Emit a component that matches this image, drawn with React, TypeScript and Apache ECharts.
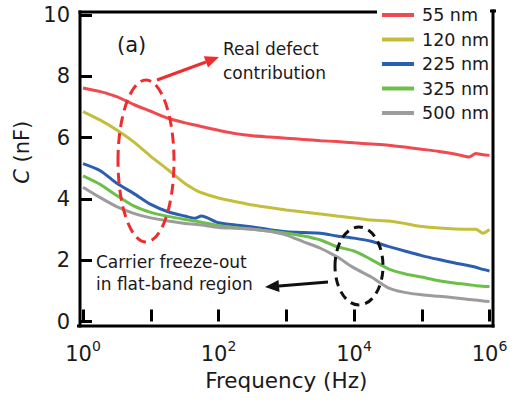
import React, { useEffect, useRef } from 'react';
import * as echarts from 'echarts';

// Measurement frequencies (Hz), shared by every thickness
const frequencies = [
  1, 1.8, 3.2, 5.6, 10, 18, 32, 45, 56, 100, 180, 320, 560, 1000, 1800, 3200, 5600,
  10000, 18000, 32000, 56000, 100000, 180000, 320000, 500000, 630000, 800000, 1000000,
];

// Capacitance (nF) for each layer thickness
const c55nm = [
  7.62, 7.5, 7.33, 7.08, 6.86, 6.63, 6.48, 6.41, 6.36, 6.24, 6.13, 6.06, 6.02, 5.98, 5.94, 5.9,
  5.87, 5.83, 5.79, 5.75, 5.69, 5.62, 5.55, 5.46, 5.37, 5.48, 5.44, 5.42,
];
const c120nm = [
  6.85, 6.57, 6.24, 5.86, 5.39, 4.95, 4.5, 4.3, 4.2, 4.03, 3.91, 3.8, 3.72, 3.64, 3.57, 3.51,
  3.44, 3.38, 3.31, 3.28, 3.2, 3.1, 3.05, 3.02, 3.01, 3.01, 2.88, 3.0,
];
const c225nm = [
  5.15, 4.92, 4.5, 4.18, 3.82, 3.58, 3.44, 3.37, 3.44, 3.22, 3.15, 3.08, 3.0, 2.93, 2.9, 2.88,
  2.79, 2.72, 2.62, 2.45, 2.3, 2.15, 2.02, 1.9, 1.82, 1.77, 1.7, 1.65,
];
const c325nm = [
  4.75, 4.47, 4.1, 3.77, 3.56, 3.43, 3.33, 3.28, 3.24, 3.13, 3.06, 3.01, 2.95, 2.88, 2.79, 2.66,
  2.44, 2.3, 2.02, 1.72, 1.56, 1.45, 1.33, 1.25, 1.2, 1.17, 1.15, 1.14,
];
const c500nm = [
  4.38, 4.04, 3.74, 3.53, 3.38, 3.28, 3.2, 3.17, 3.15, 3.07, 3.04, 3.01, 2.94, 2.82, 2.6, 2.39,
  2.11, 1.75, 1.45, 1.1, 0.95, 0.87, 0.82, 0.77, 0.72, 0.7, 0.67, 0.65,
];

const seriesNames = ['55 nm', '120 nm', '225 nm', '325 nm', '500 nm'];
const seriesValues = [c55nm, c120nm, c225nm, c325nm, c500nm];
const seriesColors = ['#ef4a50', '#c4be3c', '#2b5db0', '#6cbf48', '#9c9c9c'];

const yMin = 0;
const yMax = 10;
const yStep = 2;
const xMin = 1;
const xMax = 1e6;

const FONT = '"DejaVu Sans", Verdana, sans-serif';
const INK = '#1a1a1a';

// plot box edges (px); the top edge is interrupted where the legend sits
const BOX = { l: 80, t: 12, r: 493, b: 326, gapFrom: 377, gapTo: 490 };
const EDGE = 3;

// a solid bar of the box outline
const boxBar = (x: number, y: number, width: number, height: number) => ({
  type: 'rect',
  z: 100,
  silent: true,
  shape: { x, y, width, height },
  style: { fill: '#000' },
});

export default function App() {
  const ref = useRef<HTMLDivElement>(null);

  useEffect(() => {
    if (!ref.current) return;
    const chart = echarts.init(ref.current, undefined, { renderer: 'svg' });
    const h = EDGE / 2;

    const option: any = {
      animation: false,
      backgroundColor: '#fff',
      textStyle: { fontFamily: FONT },
      grid: { left: 83, top: 15, right: 29.5, bottom: 78.5 },
      legend: {
        data: seriesNames,
        orient: 'vertical',
        left: 377,
        top: 3,
        icon: 'rect',
        itemWidth: 32,
        itemHeight: 4,
        itemGap: 4.5,
        padding: [2, 4, 2, 5],
        textStyle: {
          fontFamily: FONT,
          fontSize: 17.5,
          color: INK,
          lineHeight: 20,
          padding: [0, 0, 0, 3],
        },
      },
      xAxis: {
        type: 'log',
        logBase: 10,
        min: xMin,
        max: xMax,
        offset: 4,
        axisLine: { show: false },
        axisTick: { show: true, inside: true, length: 12, lineStyle: { color: '#000', width: 3 } },
        splitLine: { show: false },
        axisLabel: {
          margin: 13.5,
          color: INK,
          formatter: (v: number) => {
            const e = Math.round(Math.log10(v));
            return e % 2 === 0 ? `{b|10}{s|${e}}` : '';
          },
          rich: {
            b: { fontFamily: FONT, fontSize: 21, lineHeight: 30, color: INK },
            s: { fontFamily: FONT, fontSize: 14, lineHeight: 9, verticalAlign: 'top', color: INK },
          },
        },
        name: 'Frequency (Hz)',
        nameLocation: 'middle',
        nameGap: 43,
        nameTextStyle: { fontFamily: FONT, fontSize: 21.5, color: INK },
      },
      yAxis: {
        type: 'value',
        min: yMin,
        max: yMax,
        interval: yStep,
        offset: 3,
        axisLine: { show: false },
        axisTick: { show: true, inside: true, length: 12, lineStyle: { color: '#000', width: 3 } },
        splitLine: { show: false },
        axisLabel: { margin: 10, fontSize: 21, color: INK, fontFamily: FONT },
        name: '{i|C} (nF)',
        nameLocation: 'middle',
        nameGap: 40,
        nameTextStyle: {
          fontFamily: FONT,
          fontSize: 21,
          color: INK,
          padding: [0, 0, 0, 32],
          rich: {
            i: { fontFamily: FONT, fontSize: 21, fontStyle: 'italic', color: INK },
          },
        },
      },
      series: seriesNames.map((name, k) => ({
        name,
        type: 'line',
        data: frequencies.map((f, i) => [f, seriesValues[k][i]]),
        symbol: 'none',
        smooth: 0.25,
        lineStyle: { color: seriesColors[k], width: 3 },
        itemStyle: { color: seriesColors[k] },
        z: 2 + k,
      })),
      graphic: [
        boxBar(BOX.l - h, BOX.t - h, EDGE, BOX.b - BOX.t + EDGE),
        boxBar(BOX.l - 3, BOX.b - h, BOX.r - BOX.l + 3 + h, EDGE),
        boxBar(BOX.r - h, BOX.t - 2.5, EDGE, BOX.b - BOX.t + 4),
        boxBar(BOX.l - h, BOX.t - h, BOX.gapFrom - BOX.l + h, EDGE),
        boxBar(BOX.gapTo, BOX.t - 2.5, BOX.r - BOX.gapTo + 3, EDGE),
        { type: 'text', left: 117, top: 34, z: 20, style: { text: '(a)', font: `21px ${FONT}`, fill: INK } },
        // highlighted low-frequency region
        {
          type: 'ellipse',
          z: 20,
          shape: { cx: 146, cy: 161, rx: 28, ry: 81 },
          style: { fill: 'none', stroke: '#ee2e2e', lineWidth: 3, lineDash: [11, 6] },
        },
        {
          type: 'line',
          z: 20,
          shape: { x1: 157, y1: 80, x2: 206, y2: 62 },
          style: { stroke: '#ee2e2e', lineWidth: 3 },
        },
        {
          type: 'polygon',
          z: 20,
          shape: { points: [[219, 57], [208, 67.5], [203.8, 56.3]] },
          style: { fill: '#ee2e2e' },
        },
        { type: 'text', left: 223, top: 40, z: 20, style: { text: 'Real defect', font: `17px ${FONT}`, fill: INK } },
        { type: 'text', left: 223, top: 64, z: 20, style: { text: 'contribution', font: `17px ${FONT}`, fill: INK } },
        // freeze-out region
        {
          type: 'ellipse',
          z: 20,
          shape: { cx: 359, cy: 266, rx: 24, ry: 39 },
          style: { fill: 'none', stroke: '#111', lineWidth: 3, lineDash: [9, 6] },
        },
        {
          type: 'line',
          z: 20,
          shape: { x1: 328, y1: 282, x2: 279, y2: 285.9 },
          style: { stroke: '#111', lineWidth: 3 },
        },
        {
          type: 'polygon',
          z: 20,
          shape: { points: [[265, 287], [279.5, 291.9], [278.5, 279.9]] },
          style: { fill: '#111' },
        },
        { type: 'text', left: 96, top: 253, z: 20, style: { text: 'Carrier freeze-out', font: `17px ${FONT}`, fill: INK } },
        { type: 'text', left: 96, top: 275, z: 20, style: { text: 'in flat-band region', font: `17px ${FONT}`, fill: INK } },
      ],
    };

    chart.setOption(option);
    return () => chart.dispose();
  }, []);

  return (
    <div style={{ position: 'fixed', left: 0, top: 0, width: 519, height: 400, background: '#fff' }}>
      <div ref={ref} style={{ width: 519, height: 400 }} />
    </div>
  );
}
